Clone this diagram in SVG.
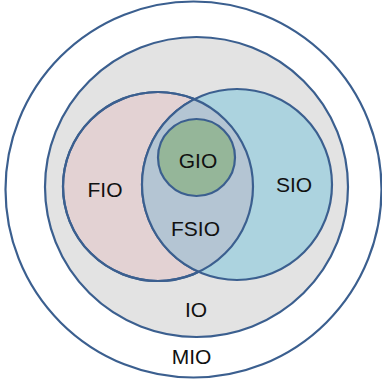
<svg xmlns="http://www.w3.org/2000/svg" width="382" height="388" viewBox="0 0 382 388">
<style>
.ln{stroke:#3b5f8f;stroke-width:2.2}
.t{font-family:"Liberation Sans",Arial,sans-serif;font-size:21px;fill:#111;text-anchor:middle}
</style>
<defs>
<clipPath id="clipF"><ellipse cx="158" cy="186.5" rx="95" ry="94.5"/></clipPath>
</defs>
<rect width="382" height="388" fill="#fff"/>
<g id="MIO">
<circle class="ln" cx="193.5" cy="189.5" r="188" fill="#fff"/>
<text class="t" x="191.5" y="364">MIO</text>
</g>
<g id="IO">
<ellipse class="ln" cx="196.5" cy="187" rx="151.5" ry="150" fill="#e3e3e3"/>
<text class="t" x="196" y="317">IO</text>
</g>
<g id="FIO">
<ellipse class="ln" cx="158" cy="186.5" rx="95" ry="94.5" fill="#e3d2d3"/>
<text class="t" x="105" y="197">FIO</text>
</g>
<g id="SIO">
<ellipse class="ln" cx="237" cy="184.5" rx="95" ry="95.5" fill="#acd3df"/>
<text class="t" x="294" y="192">SIO</text>
</g>
<g id="FSIO">
<ellipse cx="237" cy="184.5" rx="95" ry="95.5" fill="#b4c5d3" clip-path="url(#clipF)"/>
<ellipse class="ln" cx="158" cy="186.5" rx="95" ry="94.5" fill="none"/>
<ellipse class="ln" cx="237" cy="184.5" rx="95" ry="95.5" fill="none" clip-path="url(#clipF)"/>
<text class="t" x="195.5" y="236">FSIO</text>
</g>
<g id="GIO">
<circle class="ln" cx="196.5" cy="157.5" r="38.5" fill="#95b699"/>
<text class="t" x="198" y="168">GIO</text>
</g>
<g id="connectors"/>
</svg>
